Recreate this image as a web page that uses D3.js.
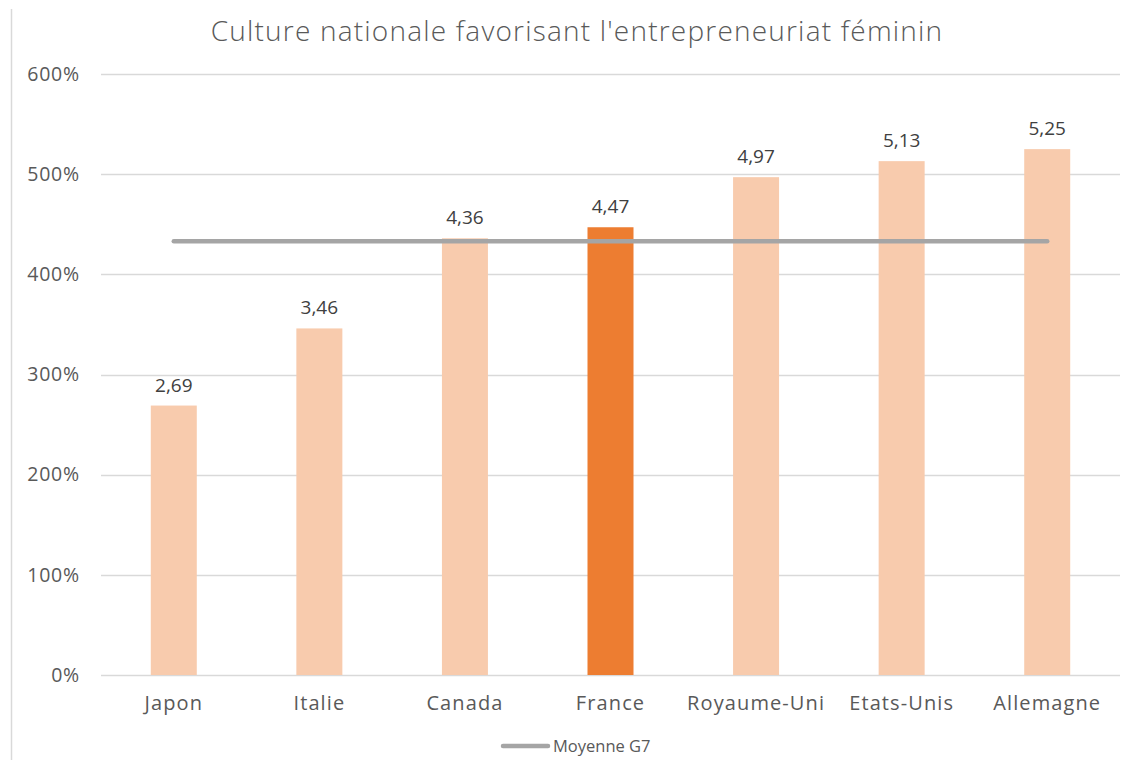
<!DOCTYPE html>
<html>
<head>
<meta charset="utf-8">
<script src="https://cdn.jsdelivr.net/npm/d3@7"></script>
<style>
  html, body { margin: 0; padding: 0; background: #fff; }
  svg { display: block; font-family: "Open Sans", "Noto Sans", sans-serif; }
</style>
</head>
<body>
<svg id="chart" width="1132" height="760"></svg>
<script>
// Indice de culture favorable à l'entrepreneuriat féminin, pays du G7
const countries = ["Japon", "Italie", "Canada", "France", "Royaume-Uni", "Etats-Unis", "Allemagne"];
const scores = [2.69, 3.46, 4.36, 4.47, 4.97, 5.13, 5.25];
const g7Average = [4.33, 4.33, 4.33, 4.33, 4.33, 4.33, 4.33];
const yTicks = [0, 1, 2, 3, 4, 5, 6];
const highlighted = "France";

const svg = d3.select("#chart");
const W = 1132, H = 760;
const plot = { left: 101, right: 1120, top: 74, bottom: 675 };
const textColor = "#595959";

// Left frame edge
svg.append("line")
  .attr("x1", 11.5).attr("x2", 11.5)
  .attr("y1", 9).attr("y2", H)
  .attr("stroke", "#d9d9d9").attr("stroke-width", 1.5);

const x = d3.scaleBand()
  .domain(countries)
  .range([plot.left, plot.right])
  .paddingInner(0.684)
  .paddingOuter(0.342);

const y = d3.scaleLinear()
  .domain([0, 6])
  .range([plot.bottom, plot.top]);

// Gridlines
svg.append("g")
  .selectAll("line")
  .data(yTicks)
  .join("line")
  .attr("x1", plot.left).attr("x2", plot.right)
  .attr("y1", d => Math.round(y(d)) + 0.5)
  .attr("y2", d => Math.round(y(d)) + 0.5)
  .attr("stroke", "#d9d9d9").attr("stroke-width", 1.5);

// Y axis labels
const yAxis = d3.axisLeft(y)
  .tickValues(yTicks)
  .tickSize(0)
  .tickPadding(0)
  .tickFormat(d => d3.format(".0%")(d));
svg.append("g")
  .attr("transform", `translate(80,0)`)
  .call(yAxis)
  .call(g => g.select(".domain").remove())
  .call(g => g.selectAll("text")
    .attr("fill", textColor)
    .style("font-size", "19.5px")
    .style("letter-spacing", "0.8px")
    .style("font-family", "'Open Sans', sans-serif"));

// Bars
svg.append("g")
  .selectAll("rect")
  .data(countries)
  .join("rect")
  .attr("x", d => x(d))
  .attr("width", x.bandwidth())
  .attr("y", (d, i) => y(scores[i]))
  .attr("height", (d, i) => y(0) - y(scores[i]))
  .attr("fill", d => d === highlighted ? "#ED7D31" : "#F8CBAD");

// Value labels
svg.append("g")
  .selectAll("text")
  .data(countries)
  .join("text")
  .attr("x", d => x(d) + x.bandwidth() / 2)
  .attr("y", (d, i) => y(scores[i]) - 14)
  .attr("text-anchor", "middle")
  .attr("fill", "#404040")
  .style("font-size", "19px")
  .text((d, i) => d3.format(".2f")(scores[i]).replace(".", ","));

// G7 average line
const avgLine = d3.line()
  .x((d, i) => x(countries[i]) + x.bandwidth() / 2)
  .y(d => y(d));
svg.append("path")
  .datum(g7Average)
  .attr("d", avgLine)
  .attr("fill", "none")
  .attr("stroke", "#a5a5a5")
  .attr("stroke-width", 4.5)
  .attr("stroke-linecap", "round");

// X axis labels
const xAxis = d3.axisBottom(x).tickSize(0).tickPadding(0);
svg.append("g")
  .attr("transform", `translate(0,${plot.bottom + 35})`)
  .call(xAxis)
  .call(g => g.select(".domain").remove())
  .call(g => g.selectAll("text")
    .attr("dy", 0)
    .attr("fill", textColor)
    .style("font-size", "20px")
    .style("letter-spacing", "1.1px")
    .style("font-family", "'Open Sans', sans-serif"));

// Title
svg.append("text")
  .attr("x", 577).attr("y", 41)
  .attr("text-anchor", "middle")
  .attr("fill", textColor)
  .style("font-size", "28px")
  .style("font-weight", "300")
  .style("letter-spacing", "1.2px")
  .text("Culture nationale favorisant l'entrepreneuriat féminin");

// Legend
const legend = svg.append("g").attr("transform", "translate(503,746)");
legend.append("line")
  .attr("x1", 0).attr("x2", 45)
  .attr("y1", 0).attr("y2", 0)
  .attr("stroke", "#a5a5a5").attr("stroke-width", 4.5)
  .attr("stroke-linecap", "round");
legend.append("text")
  .attr("x", 50).attr("y", 6)
  .attr("fill", textColor)
  .style("font-size", "16.5px")
  .text("Moyenne G7");
</script>
</body>
</html>
